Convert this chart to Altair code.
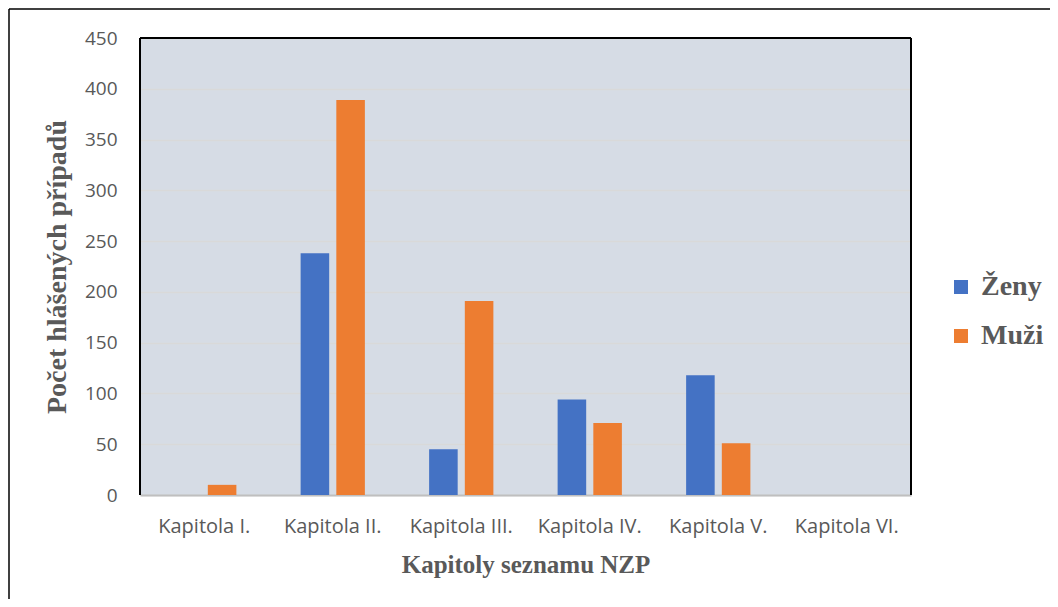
import altair as alt
import pandas as pd

categories = ["Kapitola I.", "Kapitola II.", "Kapitola III.", "Kapitola IV.", "Kapitola V.", "Kapitola VI."]
zeny = [0, 238, 45, 94, 118, 0]
muzi = [10, 389, 191, 71, 51, 0]
series = ["Ženy", "Muži"]
colors = ["#4472c4", "#ed7d31"]
y_ticks = [0, 50, 100, 150, 200, 250, 300, 350, 400, 450]

rows = []
for c, z, m in zip(categories, zeny, muzi):
    rows.append({"kapitola": c, "pohlavi": series[0], "pocet": z})
    rows.append({"kapitola": c, "pohlavi": series[1], "pocet": m})
df = pd.DataFrame(rows)

W, H = 771, 457
SANS = "Open Sans"
SERIF = "Liberation Serif"
GRAY = "#595959"

bars = alt.Chart(df).mark_bar().encode(
    x=alt.X(
        "kapitola:N",
        sort=categories,
        scale=alt.Scale(paddingInner=0.5, paddingOuter=0.25),
        axis=alt.Axis(
            title="Kapitoly seznamu NZP",
            labelAngle=0,
            labelFont=SANS,
            labelFontSize=20,
            labelColor=GRAY,
            labelPadding=21,
            ticks=False,
            domain=True,
            domainColor="#bfbfbf",
            domainWidth=2,
            titleFont=SERIF,
            titleFontSize=25,
            titleFontWeight="bold",
            titleColor=GRAY,
            titlePadding=16,
        ),
    ),
    xOffset=alt.XOffset("pohlavi:N", sort=series, scale=alt.Scale(paddingInner=0.2, paddingOuter=0)),
    y=alt.Y(
        "pocet:Q",
        scale=alt.Scale(domain=[0, 450], nice=False),
        axis=alt.Axis(
            title="Počet hlášených případů",
            values=y_ticks,
            domain=False,
            ticks=False,
            grid=True,
            gridColor="#d9d9d9",
            gridWidth=1.5,
            labelFont=SANS,
            labelFontSize=19,
            labelColor=GRAY,
            labelPadding=23,
            titleFont=SERIF,
            titleFontSize=28,
            titleFontWeight="bold",
            titleColor=GRAY,
            titlePadding=13,
        ),
    ),
    color=alt.Color(
        "pohlavi:N",
        sort=series,
        scale=alt.Scale(domain=series, range=colors),
        legend=alt.Legend(
            title=None,
            orient="none",
            legendX=807,
            legendY=235,
            direction="vertical",
            symbolType="square",
            symbolSize=196,
            symbolStrokeWidth=0,
            labelFont=SERIF,
            labelFontSize=28,
            labelFontWeight="bold",
            labelColor=GRAY,
            labelOffset=6,
            rowPadding=21,
            padding=0,
        ),
    ),
)

one = pd.DataFrame({"a": [0]})


def vline(xv, y1, y2, color, width):
    return alt.Chart(one).mark_rule(color=color, strokeWidth=width, clip=False).encode(
        x=alt.value(xv), y=alt.value(y1), y2=alt.value(y2)
    )


def hline(yv, x1, x2, color, width):
    return alt.Chart(one).mark_rule(color=color, strokeWidth=width, clip=False).encode(
        y=alt.value(yv), x=alt.value(x1), x2=alt.value(x2)
    )


frame = [
    vline(0, 0, H, "black", 2),
    vline(W, 0, H, "black", 2),
    hline(0, 0, W, "black", 2),
    hline(-29, -131, W + 140, "black", 1.5),
    vline(-131, -29, H + 110, "black", 1.5),
]

chart = alt.layer(bars, *frame).properties(
    width=W,
    height=H,
    padding={"left": 132, "top": 30, "right": 139, "bottom": 104},
    autosize=alt.AutoSizeParams(type="none"),
    background="white",
).configure_view(stroke="transparent", fill="#d6dce5")

chart.save("out.html", embed_options={"renderer": "svg", "actions": False})
